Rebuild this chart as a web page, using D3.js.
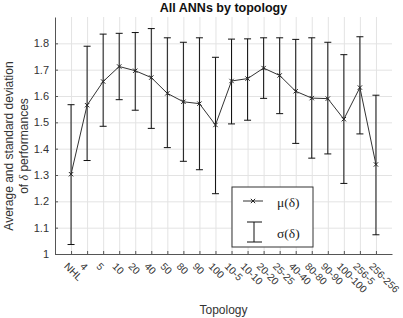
<!DOCTYPE html>
<html>
<head>
<meta charset="utf-8">
<script src="https://cdn.jsdelivr.net/npm/d3@7"></script>
<style>
  body { margin: 0; background: #fff; }
  text { font-family: "Liberation Sans", Arial, sans-serif; }
  .grid line { stroke: #e3e3e3; }
  .grid path { display: none; }
  .axis path, .axis line { stroke: #555; }
  .axis text { fill: #333; font-size: 11px; }
</style>
</head>
<body>
<div id="container"></div>
<script>
const topology = ["NHL", "4", "5", "10", "20", "40", "50", "80", "90", "100",
  "10-5", "10-10", "20-20", "25-25", "40-40", "80-80", "90-90", "100-100", "256-5", "256-256"];
const meanValues = [1.303, 1.565, 1.655, 1.712, 1.696, 1.670, 1.610, 1.578, 1.571, 1.490,
  1.657, 1.666, 1.706, 1.678, 1.618, 1.592, 1.590, 1.512, 1.632, 1.340];
const upperValues = [1.567, 1.789, 1.835, 1.838, 1.841, 1.856, 1.821, 1.804, 1.821, 1.747,
  1.816, 1.817, 1.821, 1.821, 1.815, 1.821, 1.804, 1.757, 1.825, 1.603];
const lowerValues = [1.036, 1.355, 1.485, 1.586, 1.546, 1.477, 1.404, 1.352, 1.320, 1.229,
  1.494, 1.508, 1.591, 1.533, 1.420, 1.364, 1.380, 1.268, 1.456, 1.073];
const yTicks = [1, 1.1, 1.2, 1.3, 1.4, 1.5, 1.6, 1.7, 1.8];

const width = 403, height = 318;
const margin = { top: 17, right: 11, bottom: 64, left: 55 };
const w = width - margin.left - margin.right;
const h = height - margin.top - margin.bottom;

const data = topology.map((t, i) => ({
  label: t, idx: i + 1, mean: meanValues[i], hi: upperValues[i], lo: lowerValues[i]
}));

const svg = d3.select("#container").append("svg")
  .attr("width", width).attr("height", height);

const g = svg.append("g").attr("transform", `translate(${margin.left},${margin.top})`);

const xScale = d3.scaleLinear().domain([0, topology.length + 1]).range([0, w]);
const yScale = d3.scaleLinear().domain([1, 1.9]).range([h, 0]);

// grid
g.append("g").attr("class", "grid")
  .attr("transform", `translate(0,${h})`)
  .call(d3.axisBottom(xScale).tickValues(data.map(d => d.idx)).tickSize(-h).tickFormat(""));
g.append("g").attr("class", "grid")
  .call(d3.axisLeft(yScale).tickValues(yTicks).tickSize(-w).tickFormat(""));

// axes
const xAxis = g.append("g").attr("class", "axis")
  .attr("transform", `translate(0,${h})`)
  .call(d3.axisBottom(xScale).tickValues(data.map(d => d.idx))
    .tickSizeInner(-3).tickSizeOuter(0).tickFormat(i => topology[i - 1]));
xAxis.selectAll("text")
  .attr("text-anchor", "start")
  .attr("dy", null).attr("y", null)
  .style("font-size", "10.2px")
  .attr("transform", "translate(-8,13) rotate(45)");

g.append("g").attr("class", "axis")
  .call(d3.axisLeft(yScale).tickValues(yTicks).tickSizeInner(-3).tickSizeOuter(0)
    .tickPadding(6).tickFormat(d3.format("")));

// error bars
const capW = 3.5;
const bars = g.append("g").attr("stroke", "#111").attr("stroke-width", 1);
bars.selectAll(".ebar").data(data).join("line")
  .attr("x1", d => xScale(d.idx)).attr("x2", d => xScale(d.idx))
  .attr("y1", d => yScale(d.lo)).attr("y2", d => yScale(d.hi));
bars.selectAll(".ctop").data(data).join("line")
  .attr("x1", d => xScale(d.idx) - capW).attr("x2", d => xScale(d.idx) + capW)
  .attr("y1", d => yScale(d.hi)).attr("y2", d => yScale(d.hi));
bars.selectAll(".cbot").data(data).join("line")
  .attr("x1", d => xScale(d.idx) - capW).attr("x2", d => xScale(d.idx) + capW)
  .attr("y1", d => yScale(d.lo)).attr("y2", d => yScale(d.lo));

// mean line
const line = d3.line().x(d => xScale(d.idx)).y(d => yScale(d.mean));
g.append("path").datum(data)
  .attr("fill", "none").attr("stroke", "#333").attr("stroke-width", 1)
  .attr("d", line);

const xMark = d3.symbol().type(d3.symbolX).size(14);
g.selectAll(".mk").data(data).join("path")
  .attr("transform", d => `translate(${xScale(d.idx)},${yScale(d.mean)})`)
  .attr("d", xMark).attr("fill", "none").attr("stroke", "#222").attr("stroke-width", 1);

// legend
const lg = svg.append("g").attr("transform", "translate(232,187)");
lg.append("rect").attr("width", 81).attr("height", 60)
  .attr("fill", "#fff").attr("stroke", "#333").attr("stroke-width", 1);
lg.append("line").attr("x1", 11).attr("x2", 31).attr("y1", 14).attr("y2", 14)
  .attr("stroke", "#333");
lg.append("path").attr("transform", "translate(21,14)").attr("d", xMark)
  .attr("fill", "none").attr("stroke", "#222");
lg.append("line").attr("x1", 22).attr("x2", 22).attr("y1", 35).attr("y2", 55).attr("stroke", "#111");
lg.append("line").attr("x1", 15).attr("x2", 30).attr("y1", 35).attr("y2", 35).attr("stroke", "#111");
lg.append("line").attr("x1", 15).attr("x2", 30).attr("y1", 55).attr("y2", 55).attr("stroke", "#111");
lg.append("text").attr("x", 45).attr("y", 20).attr("font-size", 13.5)
  .style("font-family", "'Liberation Serif', serif").attr("fill", "#222").text("μ(δ)");
lg.append("text").attr("x", 45).attr("y", 51).attr("font-size", 13.5)
  .style("font-family", "'Liberation Serif', serif").attr("fill", "#222").text("σ(δ)");

// title and labels
svg.append("text").attr("x", margin.left + w / 2).attr("y", 12)
  .attr("text-anchor", "middle").attr("font-size", 12.5).attr("font-weight", "bold")
  .attr("fill", "#111").text("All ANNs by topology");

svg.append("text").attr("x", margin.left + w / 2).attr("y", 314)
  .attr("text-anchor", "middle").attr("font-size", 12).attr("fill", "#333").text("Topology");

const yl = svg.append("text").attr("transform", "translate(0,146) rotate(-90)")
  .attr("text-anchor", "middle").attr("font-size", 12).attr("fill", "#333");
yl.append("tspan").attr("x", 0).attr("y", 13).text("Average and standard deviation");
const l2 = yl.append("tspan").attr("x", 0).attr("y", 28);
l2.append("tspan").text("of ");
l2.append("tspan").style("font-family", "'Liberation Serif', serif").attr("font-style", "italic").text("δ");
l2.append("tspan").text(" performances");
</script>
</body>
</html>
